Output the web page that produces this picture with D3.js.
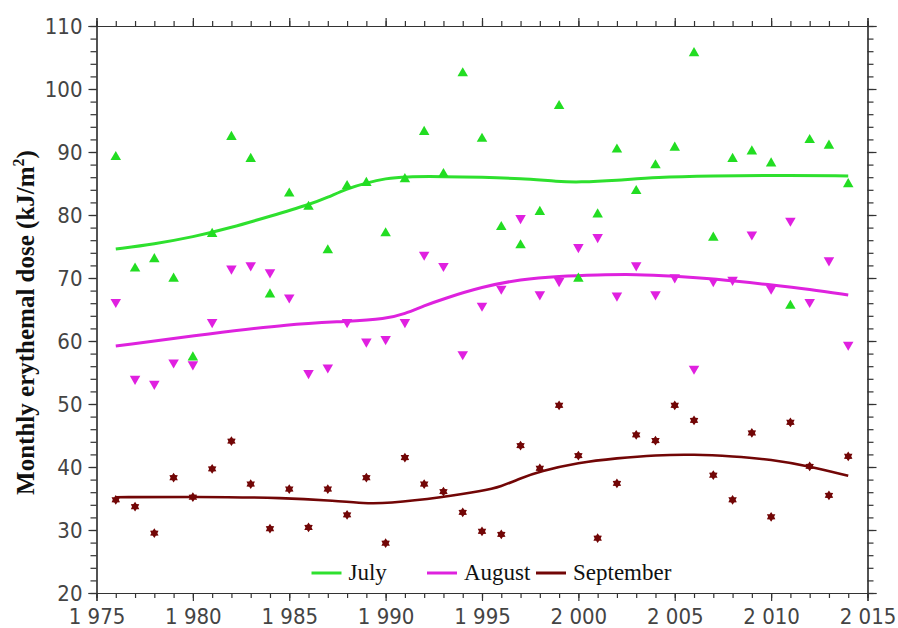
<!DOCTYPE html>
<html>
<head>
<meta charset="utf-8">
<script src="https://cdn.jsdelivr.net/npm/d3@7"></script>
<style>
  html, body { margin: 0; padding: 0; background: #fff; }
  svg { display: block; }
  .tick-label { font-family: "DejaVu Sans Condensed", "DejaVu Sans", sans-serif; font-stretch: condensed; font-size: 22px; fill: #444; }
  .serif { font-family: "Liberation Serif", "Times New Roman", serif; }
</style>
</head>
<body>
<svg id="chart" width="898" height="628"></svg>
<script>
// Years of observation
const years = d3.range(1976, 2015);

// Monthly erythemal dose (kJ/m²) per year
const july = [89.2, 71.5, 73.0, 69.9, 57.4, 77.0, 92.4, 88.9, 67.4, 83.4,
              81.3, 74.4, 84.6, 85.1, 77.1, 85.7, 93.2, 86.5, 102.5, 92.1,
              78.1, 75.2, 80.5, 97.3, 69.9, 80.1, 90.4, 83.8, 87.9, 90.7,
              105.7, 76.4, 88.9, 90.1, 88.2, 65.6, 91.9, 91.0, 84.9];
const august = [66.2, 54.0, 53.2, 56.6, 56.3, 63.0, 71.5, 72.0, 70.9, 66.9,
                54.9, 55.8, 63.0, 59.9, 60.3, 63.0, 73.7, 71.9, 57.9, 65.6,
                68.3, 79.5, 67.4, 69.5, 74.9, 76.5, 67.2, 72.0, 67.4, 70.1,
                55.6, 69.5, 69.7, 76.9, 68.3, 79.1, 66.2, 72.8, 59.4];
const september = [34.8, 33.7, 29.5, 38.3, 35.2, 39.7, 44.1, 37.3, 30.2, 36.5,
                   30.4, 36.5, 32.4, 38.3, 27.9, 41.5, 37.3, 36.1, 32.8, 29.8,
                   29.3, 43.4, 39.8, 49.8, 41.8, 28.7, 37.4, 45.1, 44.2, 49.8,
                   47.4, 38.7, 34.8, 45.4, 32.1, 47.1, 40.1, 35.5, 41.7];

// Smoothed trend per month
const julyTrendYears = [1976, 1978, 1980, 1982, 1984, 1986, 1987, 1988, 1989, 1990, 1991, 1993, 1995, 1997, 1999, 2000, 2002, 2004, 2007, 2010, 2014];
const julyTrend      = [74.6, 75.4, 76.5, 78.0, 79.8, 81.6, 82.8, 84.2, 85.1, 85.8, 86.1, 86.1, 86.0, 85.8, 85.3, 85.2, 85.5, 86.0, 86.2, 86.3, 86.2];
const augustTrendYears = [1976, 1981, 1985, 1988, 1990, 1991, 1992, 1993, 1995, 1997, 1999, 2001, 2003, 2005, 2007, 2010, 2012, 2014];
const augustTrend      = [59.2, 61.2, 62.7, 63.1, 63.5, 64.3, 65.6, 66.7, 68.6, 69.8, 70.3, 70.5, 70.6, 70.3, 69.9, 68.9, 68.2, 67.3];
const septemberTrendYears = [1976, 1980, 1985, 1987, 1989, 1990, 1993, 1995, 1996, 1997, 1998, 2000, 2002, 2004, 2006, 2008, 2010, 2012, 2014];
const septemberTrend      = [35.2, 35.3, 35.1, 34.7, 34.2, 34.2, 35.2, 36.2, 36.9, 38.2, 39.3, 40.7, 41.4, 41.9, 42.0, 41.7, 41.2, 40.1, 38.6];

// Axis ticks
const xTickValues = [1975, 1980, 1985, 1990, 1995, 2000, 2005, 2010, 2015];
const xTickLabels = ["1 975", "1 980", "1 985", "1 990", "1 995", "2 000", "2 005", "2 010", "2 015"];
const yTickValues = [20, 30, 40, 50, 60, 70, 80, 90, 100, 110];

const seriesNames = ["July", "August", "September"];
const colors = { July: "#2ee02e", August: "#de22de", September: "#720606" };

const svg = d3.select("#chart");
const plotLeft = 96.5, plotRight = 867.5, plotTop = 26, plotBottom = 593;

const x = d3.scaleLinear().domain([1975, 2015]).range([plotLeft, plotRight]);
const y = d3.scaleLinear().domain([20, 110]).range([plotBottom, plotTop]);

const axisColor = "#333";

function styleAxis(g) {
  g.selectAll(".domain").attr("stroke", axisColor).attr("stroke-width", 1.2);
  g.selectAll(".tick line").attr("stroke", axisColor).attr("stroke-width", 1.2);
}

// Minor ticks (every year / every 2 units)
const minorX = d3.range(1975, 2016);
const minorY = d3.range(20, 111, 2);

// Bottom axis
svg.append("g").attr("transform", `translate(0,${plotBottom})`)
  .call(d3.axisBottom(x).tickValues(minorX).tickSize(5).tickFormat(""))
  .call(styleAxis);
const xb = svg.append("g").attr("transform", `translate(0,${plotBottom})`)
  .call(d3.axisBottom(x).tickValues(xTickValues).tickSize(8).tickPadding(7)
    .tickFormat((d, i) => xTickLabels[i]))
  .call(styleAxis);
xb.selectAll("text").attr("class", "tick-label").attr("dy", "0.71em");

// Top axis
svg.append("g").attr("transform", `translate(0,${plotTop})`)
  .call(d3.axisTop(x).tickValues(minorX).tickSize(5).tickFormat(""))
  .call(styleAxis);
svg.append("g").attr("transform", `translate(0,${plotTop})`)
  .call(d3.axisTop(x).tickValues(xTickValues).tickSize(8).tickFormat(""))
  .call(styleAxis);

// Left axis
svg.append("g").attr("transform", `translate(${plotLeft},0)`)
  .call(d3.axisLeft(y).tickValues(minorY).tickSize(6).tickFormat(""))
  .call(styleAxis);
const yl = svg.append("g").attr("transform", `translate(${plotLeft},0)`)
  .call(d3.axisLeft(y).tickValues(yTickValues).tickSize(8).tickPadding(6).tickFormat(d3.format("d")))
  .call(styleAxis);
yl.selectAll("text").attr("class", "tick-label").attr("dy", "0.36em");

// Right axis
svg.append("g").attr("transform", `translate(${plotRight},0)`)
  .call(d3.axisRight(y).tickValues(minorY).tickSize(6).tickFormat(""))
  .call(styleAxis);
svg.append("g").attr("transform", `translate(${plotRight},0)`)
  .call(d3.axisRight(y).tickValues(yTickValues).tickSize(9).tickFormat(""))
  .call(styleAxis);

// Y-axis title
const yTitle = svg.append("text")
  .attr("class", "serif")
  .attr("transform", `translate(34,${(152 + 493) / 2}) rotate(-90)`)
  .attr("text-anchor", "middle")
  .attr("font-size", 25)
  .attr("font-weight", "bold")
  .attr("fill", "#111");
yTitle.append("tspan").text("Monthly erythemal dose (kJ/m");
yTitle.append("tspan").attr("font-size", 16).attr("dy", -10).text("2");
yTitle.append("tspan").attr("dy", 10).text(")");

// Trend lines
const line = d3.line().x(d => x(d[0])).y(d => y(d[1])).curve(d3.curveBasis);
const trends = [
  ["July", julyTrendYears, julyTrend, 3],
  ["August", augustTrendYears, augustTrend, 3],
  ["September", septemberTrendYears, septemberTrend, 2.6]
];
trends.forEach(([name, ys, vs, w]) => {
  svg.append("path")
    .datum(ys.map((yr, i) => [yr, vs[i]]))
    .attr("fill", "none")
    .attr("stroke", colors[name])
    .attr("stroke-width", w)
    .attr("d", line);
});

// Markers
const triUp = d3.symbol().type(d3.symbolTriangle).size(48);
const triDown = d3.symbol().type(d3.symbolTriangle).size(48);
const starShape = {
  draw(ctx, size) {
    const r = Math.sqrt(size) * 0.62, ri = r * 0.62, n = 6;
    for (let k = 0; k < 2 * n; k++) {
      const a = Math.PI * k / n - Math.PI / 2;
      const rr = k % 2 === 0 ? r : ri;
      if (k === 0) ctx.moveTo(rr * Math.cos(a), rr * Math.sin(a));
      else ctx.lineTo(rr * Math.cos(a), rr * Math.sin(a));
    }
    ctx.closePath();
  }
};
const star = d3.symbol().type(starShape).size(62);

svg.append("g").selectAll("path").data(september).join("path")
  .attr("transform", (d, i) => `translate(${x(years[i])},${y(d)})`)
  .attr("d", star).attr("fill", colors.September);
svg.append("g").selectAll("path").data(july).join("path")
  .attr("transform", (d, i) => `translate(${x(years[i])},${y(d)})`)
  .attr("d", triUp).attr("fill", "#22dd22");
svg.append("g").selectAll("path").data(august).join("path")
  .attr("transform", (d, i) => `translate(${x(years[i])},${y(d)}) rotate(180)`)
  .attr("d", triDown).attr("fill", "#e020e0");

// Legend
const legend = svg.append("g").attr("transform", "translate(0,573)");
const legendX = [311.5, 427, 536];
seriesNames.forEach((name, i) => {
  const g = legend.append("g").attr("transform", `translate(${legendX[i]},0)`);
  g.append("line").attr("x1", 0).attr("x2", 30).attr("y1", 0).attr("y2", 0)
    .attr("stroke", colors[name]).attr("stroke-width", 3);
  g.append("text").attr("class", "serif").attr("x", 37).attr("y", 7)
    .attr("font-size", 23).attr("fill", "#111").text(name);
});
</script>
</body>
</html>
